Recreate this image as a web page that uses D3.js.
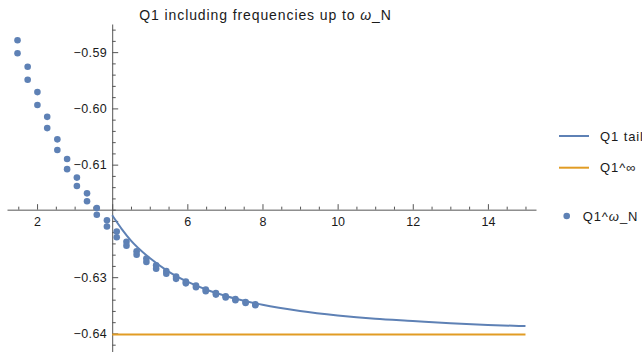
<!DOCTYPE html>
<html>
<head>
<meta charset="utf-8">
<script src="https://cdn.jsdelivr.net/npm/d3@7"></script>
<style>
  body { margin: 0; background: #fff; }
  svg { display: block; font-family: "Liberation Sans", Arial, sans-serif; }
  .axis path, .axis line { stroke: #555; }
  .axis text { fill: #1a1a1a; font-size: 12.5px; font-family: "Liberation Sans", Arial, sans-serif; }
</style>
</head>
<body>
<svg id="chart" width="642" height="352"></svg>
<script>
// frequencies (x) of the sampled points
var omegaN = [1.48, 1.75, 2.01, 2.27, 2.54, 2.80, 3.06, 3.33, 3.59, 3.86, 4.12, 4.38, 4.65,
              4.91, 5.17, 5.44, 5.70, 5.96, 6.23, 6.49, 6.76, 7.02, 7.28, 7.55, 7.81];
// two point values per frequency (upper / lower dot)
var q1Upper = [-0.5879, -0.5926, -0.5971, -0.6015, -0.6055, -0.6090, -0.6123, -0.6151, -0.6177,
               -0.6199, -0.6219, -0.6237, -0.6254, -0.6267, -0.6279, -0.6289, -0.6299, -0.6308,
               -0.6315, -0.6322, -0.6328, -0.6334, -0.6339, -0.6344, -0.6348];
var q1Lower = [-0.5902, -0.5949, -0.5994, -0.6035, -0.6074, -0.6108, -0.6138, -0.6165, -0.6189,
               -0.6210, -0.6229, -0.6244, -0.6260, -0.6273, -0.6285, -0.6294, -0.6303, -0.6311,
               -0.6318, -0.6325, -0.6331, -0.6336, -0.6341, -0.6346, -0.6350];
// tail curve samples
var tailX = [4, 4.25, 4.5, 5, 5.5, 6, 6.5, 7, 8, 9, 10, 11, 12, 13, 14, 15];
var tailY = [-0.6190, -0.6214, -0.6235, -0.6266, -0.6290, -0.6308, -0.6322, -0.6333, -0.6349,
             -0.6360, -0.6368, -0.6374, -0.6378, -0.6382, -0.6385, -0.6387];
// asymptote
var infX = [4, 15];
var infY = [-0.6402, -0.6402];
// ticks
var xMajor = [2, 4, 6, 8, 10, 12, 14];
var xLabels = ["2", "", "6", "8", "10", "12", "14"];
var yMajor = [-0.59, -0.60, -0.61, -0.62, -0.63, -0.64];
var yLabels = ["\u22120.59", "\u22120.60", "\u22120.61", "", "\u22120.63", "\u22120.64"];

var blue = "#5E81B5", orange = "#E19C24";
var svg = d3.select("#chart");

var xScale = d3.scaleLinear().domain([1.2, 15.28]).range([7, 536]);
var yScale = d3.scaleLinear().domain([-0.6433, -0.585]).range([352, 24]);
var xAxisY = yScale(-0.618);
var yAxisX = xScale(4);

// minor ticks
var xMinor = d3.range(1.5, 15.01, 0.5).filter(v => Math.abs(v / 2 - Math.round(v / 2)) > 1e-6);
var yMinor = d3.range(-0.642, -0.5855, 0.002).filter(v => Math.abs(v * 100 - Math.round(v * 100)) > 1e-6);

svg.append("g")
  .attr("class", "axis")
  .attr("transform", "translate(0," + xAxisY + ")")
  .call(d3.axisBottom(xScale).tickValues(xMinor).tickSizeInner(-3).tickSizeOuter(0).tickFormat(""))
  .call(g => g.select(".domain").remove());
svg.append("g")
  .attr("class", "axis")
  .attr("transform", "translate(0," + xAxisY + ")")
  .call(d3.axisBottom(xScale).tickValues(xMajor).tickSizeInner(-5.5).tickSizeOuter(0).tickPadding(7)
    .tickFormat((d, i) => xLabels[i]));

svg.append("g")
  .attr("class", "axis")
  .attr("transform", "translate(" + yAxisX + ",0)")
  .call(d3.axisLeft(yScale).tickValues(yMinor).tickSizeInner(-3.5).tickSizeOuter(0).tickFormat(""))
  .call(g => g.select(".domain").remove());
svg.append("g")
  .attr("class", "axis")
  .attr("transform", "translate(" + yAxisX + ",0)")
  .call(d3.axisLeft(yScale).tickValues(yMajor).tickSizeInner(-6).tickSizeOuter(0).tickPadding(5)
    .tickFormat((d, i) => yLabels[i]))
  .selectAll("text").attr("letter-spacing", 0.4);

// lines
var line = d3.line()
  .x(d => xScale(d[0]))
  .y(d => yScale(d[1]))
  .curve(d3.curveMonotoneX);

svg.append("path")
  .attr("d", line(d3.zip(infX, infY)))
  .attr("fill", "none")
  .attr("stroke", orange)
  .attr("stroke-width", 2);

svg.append("path")
  .attr("d", line(d3.zip(tailX, tailY)))
  .attr("fill", "none")
  .attr("stroke", blue)
  .attr("stroke-width", 2);

// points
var pts = d3.zip(omegaN, q1Upper).concat(d3.zip(omegaN, q1Lower));
svg.append("g")
  .selectAll("circle")
  .data(pts)
  .enter()
  .append("circle")
  .attr("cx", d => xScale(d[0]))
  .attr("cy", d => yScale(d[1]))
  .attr("r", 3.3)
  .attr("fill", blue);

// title
var title = svg.append("text")
  .attr("x", 265.5)
  .attr("y", 19.5)
  .attr("text-anchor", "middle")
  .attr("font-size", 14)
  .attr("letter-spacing", 0.9)
  .attr("fill", "#1a1a1a");
title.append("tspan").text("Q1 including frequencies up to ");
title.append("tspan").attr("font-style", "italic").text("\u03c9");
title.append("tspan").text("_N");

// legend
var legend = svg.append("g").attr("font-size", 13).attr("letter-spacing", 0.9).attr("fill", "#1a1a1a");
legend.append("line").attr("x1", 559).attr("x2", 589).attr("y1", 136).attr("y2", 136)
  .attr("stroke", blue).attr("stroke-width", 2);
legend.append("text").attr("x", 600).attr("y", 140.5).text("Q1 tail");
legend.append("line").attr("x1", 559).attr("x2", 589).attr("y1", 167.7).attr("y2", 167.7)
  .attr("stroke", orange).attr("stroke-width", 2);
legend.append("text").attr("x", 600).attr("y", 172).text("Q1^\u221e");
legend.append("circle").attr("cx", 566.7).attr("cy", 216).attr("r", 3.3).attr("fill", blue);
var lt = legend.append("text").attr("x", 582.7).attr("y", 220.5);
lt.append("tspan").text("Q1^");
lt.append("tspan").attr("font-style", "italic").text("\u03c9");
lt.append("tspan").text("_N");
</script>
</body>
</html>
